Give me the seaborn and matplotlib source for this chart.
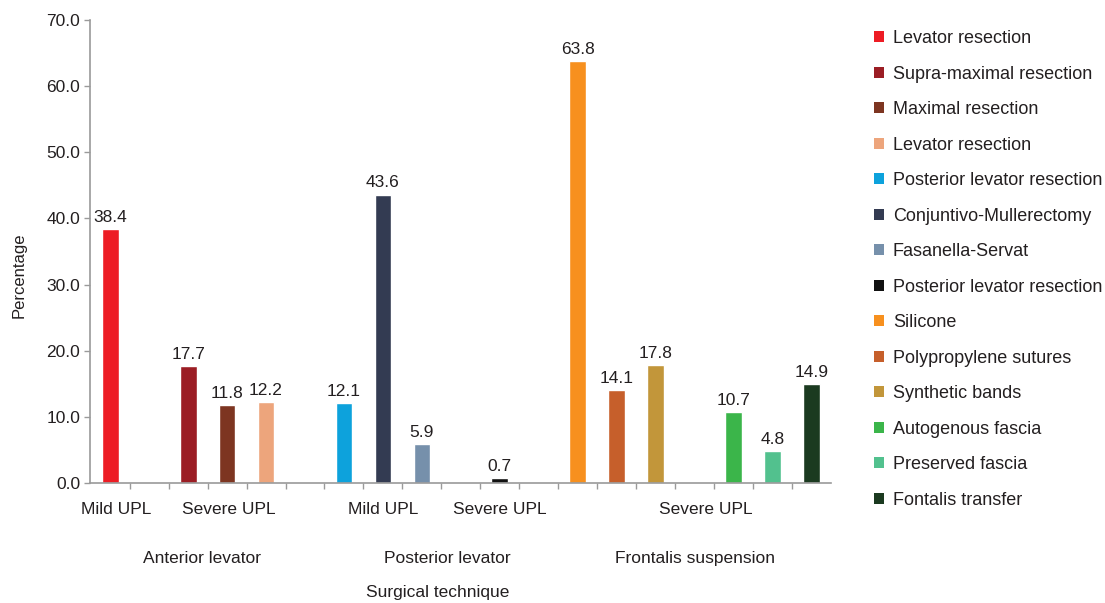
import matplotlib
matplotlib.use("Agg")
import matplotlib.pyplot as plt
from matplotlib.patches import Patch
from matplotlib.ticker import FixedLocator, FormatStrFormatter
import pandas as pd
import seaborn as sns

# Techniques, in legend order
techniques = [
    "Levator resection", "Supra-maximal resection", "Maximal resection",
    "Levator resection", "Posterior levator resection", "Conjuntivo-Mullerectomy",
    "Fasanella-Servat", "Posterior levator resection", "Silicone",
    "Polypropylene sutures", "Synthetic bands", "Autogenous fascia",
    "Preserved fascia", "Fontalis transfer",
]
percentages = [38.4, 17.7, 11.8, 12.2, 12.1, 43.6, 5.9, 0.7, 63.8, 14.1, 17.8, 10.7, 4.8, 14.9]
# slot of each bar along the category axis (gaps separate the sub-groups)
slots = [0, 2, 3, 4, 6, 7, 8, 10, 12, 13, 14, 16, 17, 18]
colors = [
    "#ED1C24", "#9B1D24", "#7D3521", "#EDA57C", "#0DA2DC", "#333B52",
    "#7690AB", "#111111", "#F7901E", "#C65F2B", "#C2963A", "#3BB54A",
    "#52C18E", "#1B3A20",
]

severity_labels = ["Mild UPL", "Severe UPL", "Mild UPL", "Severe UPL", "Severe UPL"]
severity_pos = [0.15, 3.05, 7.0, 10.0, 15.3]
group_labels = ["Anterior levator", "Posterior levator", "Frontalis suspension"]
group_pos = [2.35, 8.65, 15.0]
y_ticks = [0, 10, 20, 30, 40, 50, 60, 70]

df = pd.DataFrame({
    "key": [f"{i:02d}" for i in range(len(techniques))],
    "technique": techniques,
    "slot": slots,
    "pct": percentages,
})

sns.set_style("white")
plt.rcParams["font.family"] = ["Liberation Sans", "DejaVu Sans"]
text_color = "#231F20"
axis_color = "#9A9A9A"

fig = plt.figure(figsize=(11.05, 6.03), dpi=100)
ax = fig.add_axes([0.0814, 0.199, 0.6706, 0.7678])

sns.barplot(
    data=df, x="slot", y="pct", hue="key", palette=colors,
    native_scale=True, dodge=False, width=0.43, legend=False,
    saturation=1, ax=ax,
)

for cont in ax.containers:
    ax.bar_label(cont, fmt="%.1f", padding=3, fontsize=12.5, color=text_color)

ax.set_xlim(-0.52, 18.5)
ax.set_ylim(0, 70)
ax.set_yticks(y_ticks)
ax.yaxis.set_major_formatter(FormatStrFormatter("%.1f"))
ax.tick_params(axis="y", length=4, width=1, color=axis_color, labelsize=12.5,
               labelcolor=text_color, pad=3, left=True)

ax.set_xticks(severity_pos)
ax.set_xticklabels(severity_labels)
ax.xaxis.set_minor_locator(FixedLocator([s + 0.5 for s in range(18)]))
ax.tick_params(axis="x", which="major", length=0, labelsize=12.5,
               labelcolor=text_color, pad=14)
ax.tick_params(axis="x", which="minor", length=4, width=1, color=axis_color,
               bottom=True)

for label, pos in zip(group_labels, group_pos):
    ax.text(pos, -0.162, label, transform=ax.get_xaxis_transform(),
            ha="center", va="center", fontsize=12.5, color=text_color)

ax.set_xlabel("")
fig.text(438 / 1105, 1 - 593 / 603, "Surgical technique", ha="center", va="center",
         fontsize=12.5, color=text_color)
ax.set_ylabel("Percentage", fontsize=12, color=text_color)
ax.yaxis.set_label_coords(-0.086, 0.449)

for side in ("top", "right"):
    ax.spines[side].set_visible(False)
for side in ("left", "bottom"):
    ax.spines[side].set_color(axis_color)
    ax.spines[side].set_linewidth(1.2)

handles = [Patch(facecolor=c, edgecolor="none") for c in colors]
fig.legend(
    handles, techniques, loc="upper left", bbox_to_anchor=(874 / 1105, 1 - 30 / 603),
    frameon=False, fontsize=13, handlelength=0.55, handleheight=0.55,
    handletextpad=0.5, labelspacing=1.025, labelcolor=text_color,
    borderpad=0, borderaxespad=0,
)

fig.savefig("out.png", dpi=100)
